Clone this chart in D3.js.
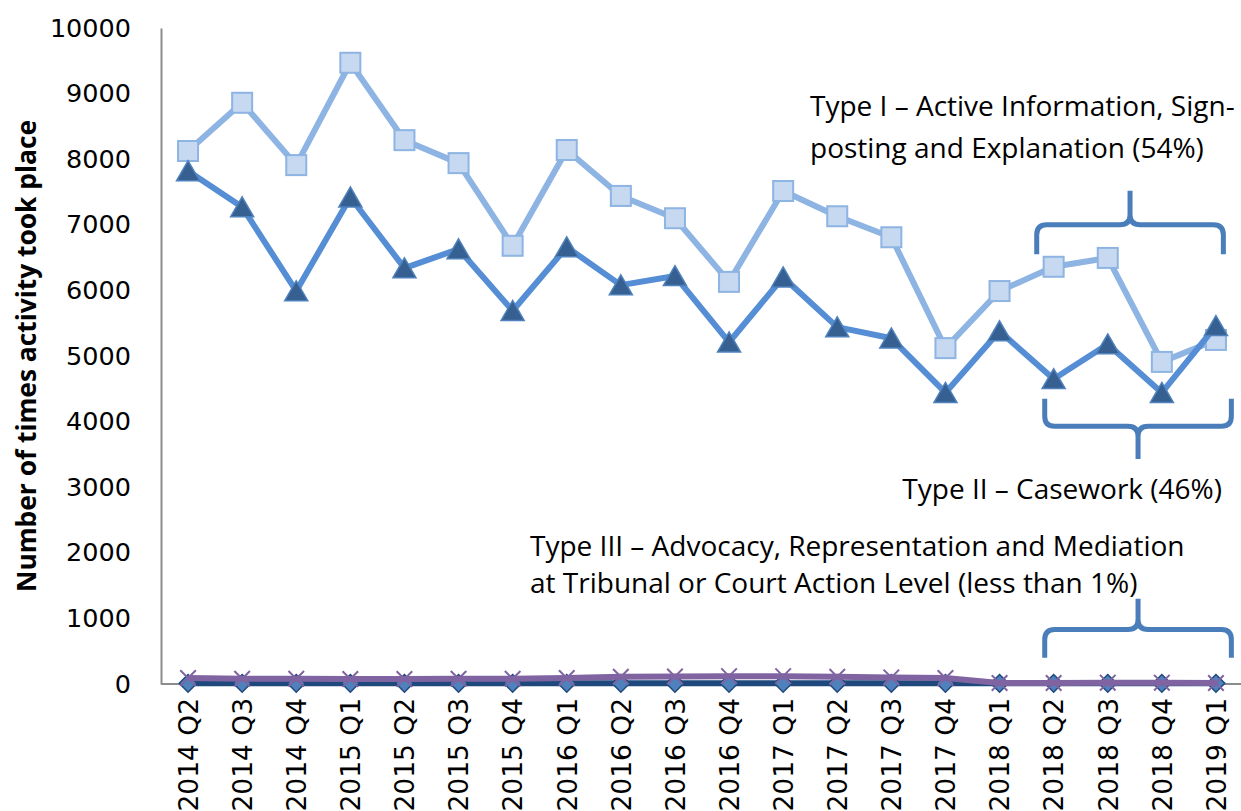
<!DOCTYPE html>
<html>
<head>
<meta charset="utf-8">
<script src="https://cdn.jsdelivr.net/npm/d3@7"></script>
<style>
  body { margin: 0; background: #fff; }
  svg { display: block; }
</style>
</head>
<body>
<div id="chart"></div>
<script>
// quarters on the x axis
const quarters = ["2014 Q2", "2014 Q3", "2014 Q4", "2015 Q1", "2015 Q2", "2015 Q3", "2015 Q4",
  "2016 Q1", "2016 Q2", "2016 Q3", "2016 Q4", "2017 Q1", "2017 Q2", "2017 Q3", "2017 Q4",
  "2018 Q1", "2018 Q2", "2018 Q3", "2018 Q4", "2019 Q1"];

// Type I – Active Information, Sign-posting and Explanation
const typeOne = [8125, 8860, 7910, 9470, 8290, 7940, 6680, 8140, 7440, 7100, 6130, 7515, 7130, 6810, 5120,
  5990, 6360, 6495, 4910, 5245];
// Type II – Casework
const typeTwo = [7820, 7270, 5990, 7420, 6340, 6630, 5690, 6660, 6080, 6220, 5210, 6200, 5440, 5270, 4440,
  5380, 4650, 5180, 4440, 5460];
// Type III – Advocacy, Representation and Mediation
const typeThree = [10, 10, 10, 10, 10, 10, 10, 10, 10, 10, 10, 10, 10, 10, 10, 10, 10, 10, 10, 10];
// the fourth, purple series near zero
const typeOther = [90, 80, 80, 75, 75, 80, 80, 90, 110, 115, 120, 120, 110, 100, 90, 15, 15, 20, 20, 15];

const yTicks = [0, 1000, 2000, 3000, 4000, 5000, 6000, 7000, 8000, 9000, 10000];

const width = 1241;
const height = 811;
const margin = { top: 28, right: -2, bottom: 127, left: 161 };

const svg = d3.select("#chart")
  .append("svg")
  .attr("width", width)
  .attr("height", height);

const xScale = d3.scalePoint()
  .domain(quarters)
  .range([margin.left, width - margin.right])
  .padding(0.5);

const yScale = d3.scaleLinear()
  .domain([0, 10000])
  .range([height - margin.bottom, margin.top]);

// axes
const yAxis = svg.append("g")
  .attr("transform", `translate(${margin.left},0)`)
  .call(d3.axisLeft(yScale).tickValues(yTicks).tickSize(0).tickPadding(30).tickFormat(d3.format("d")));
yAxis.select(".domain").attr("stroke", "#8c8c8c").attr("stroke-width", 2);
yAxis.selectAll("text")
  .attr("font-family", "DejaVu Sans, sans-serif")
  .attr("font-size", 25.5)
  .attr("fill", "#000");

const xAxis = svg.append("g")
  .attr("transform", `translate(0,${height - margin.bottom})`)
  .call(d3.axisBottom(xScale).tickSize(0).tickSizeOuter(0));
xAxis.select(".domain")
  .attr("d", `M${margin.left},0H${width}`)
  .attr("stroke", "#8c8c8c").attr("stroke-width", 2);
xAxis.selectAll("text")
  .attr("font-family", "DejaVu Sans, sans-serif")
  .attr("font-size", 26.5)
  .attr("fill", "#000")
  .attr("transform", "rotate(-90)")
  .attr("text-anchor", "end")
  .attr("dx", -14)
  .attr("dy", "0.35em")
  .attr("y", 0);

svg.append("text")
  .attr("transform", `translate(36,${(margin.top + height - margin.bottom) / 2}) rotate(-90)`)
  .attr("text-anchor", "middle")
  .attr("font-family", "Open Sans, sans-serif")
  .attr("font-weight", "bold")
  .attr("font-size", 26.5)
  .attr("textLength", 472)
  .attr("lengthAdjust", "spacingAndGlyphs")
  .text("Number of times activity took place");

const line = d3.line()
  .x((d, i) => xScale(quarters[i]))
  .y(d => yScale(d));

function drawLine(values, color) {
  svg.append("path")
    .datum(values)
    .attr("fill", "none")
    .attr("stroke", color)
    .attr("stroke-width", 6)
    .attr("stroke-linejoin", "round")
    .attr("d", line);
}

// Type I
drawLine(typeOne, "#8db4e2");
svg.selectAll(".sq")
  .data(typeOne)
  .join("rect")
  .attr("x", (d, i) => xScale(quarters[i]) - 10)
  .attr("y", d => yScale(d) - 10)
  .attr("width", 20)
  .attr("height", 20)
  .attr("fill", "#c6d9f1")
  .attr("stroke", "#8db4e2")
  .attr("stroke-width", 2);

// Type II
drawLine(typeTwo, "#558ed5");
const tri = d3.symbol().type(d3.symbolTriangle).size(230);
svg.selectAll(".tri")
  .data(typeTwo)
  .join("path")
  .attr("transform", (d, i) => `translate(${xScale(quarters[i])},${yScale(d) + 3})`)
  .attr("d", tri)
  .attr("fill", "#366092")
  .attr("stroke", "#4f81bd")
  .attr("stroke-width", 1.5);

// Type III
drawLine(typeThree, "#1f497d");
const dia = d3.symbol().type(d3.symbolDiamond2).size(200);
svg.selectAll(".dia")
  .data(typeThree)
  .join("path")
  .attr("transform", (d, i) => `translate(${xScale(quarters[i])},${yScale(d)})`)
  .attr("d", dia)
  .attr("fill", "#4f81bd")
  .attr("stroke", "#1f497d")
  .attr("stroke-width", 1.5);

// purple series
drawLine(typeOther, "#8064a2");
const cross = d3.symbol().type(d3.symbolX).size(160);
svg.selectAll(".x")
  .data(typeOther)
  .join("path")
  .attr("transform", (d, i) => `translate(${xScale(quarters[i])},${yScale(d)})`)
  .attr("d", cross)
  .attr("fill", "none")
  .attr("stroke", "#8064a2")
  .attr("stroke-width", 2);

// curly braces spanning the last four quarters
const step = xScale.step();
function brace(x0, x1, yEnd, yMid, yTip) {
  const xm = (x0 + x1) / 2;
  const dir = Math.sign(yTip - yMid);
  const r = 10;
  const p = d3.path();
  p.moveTo(x0, yEnd);
  p.lineTo(x0, yMid - dir * r);
  p.quadraticCurveTo(x0, yMid, x0 + r, yMid);
  p.lineTo(xm - r, yMid);
  p.quadraticCurveTo(xm, yMid, xm, yMid + dir * r);
  p.lineTo(xm, yTip);
  p.moveTo(xm, yMid + dir * r);
  p.quadraticCurveTo(xm, yMid, xm + r, yMid);
  p.lineTo(x1 - r, yMid);
  p.quadraticCurveTo(x1, yMid, x1, yMid - dir * r);
  p.lineTo(x1, yEnd);
  svg.append("path")
    .attr("d", p.toString())
    .attr("fill", "none")
    .attr("stroke", "#4a7ebb")
    .attr("stroke-width", 5)
    .attr("stroke-linecap", "butt");
}
const bx0 = xScale("2018 Q2") - step * 0.35 + 10;
const bx1 = xScale("2019 Q1") + step * 0.1 + 10;
brace(bx0 - 8, bx1 - 8, yScale(6550), yScale(7000), yScale(7520));
brace(bx0, bx1, yScale(4350), yScale(3930), yScale(3430));
brace(bx0, bx1, yScale(400), yScale(830), yScale(1300));

// annotation text
const notes = svg.append("g")
  .attr("font-family", "Open Sans, sans-serif")
  .attr("font-size", 28)
  .attr("fill", "#000");
notes.append("text").attr("x", 810).attr("y", 116).text("Type I – Active Information, Sign-");
notes.append("text").attr("x", 810).attr("y", 158).text("posting and Explanation (54%)");
notes.append("text").attr("x", 1222).attr("y", 499).attr("text-anchor", "end").text("Type II – Casework (46%)");
notes.append("text").attr("x", 530).attr("y", 556).text("Type III – Advocacy, Representation and Mediation");
notes.append("text").attr("x", 530).attr("y", 593).text("at Tribunal or Court Action Level (less than 1%)");
</script>
</body>
</html>
